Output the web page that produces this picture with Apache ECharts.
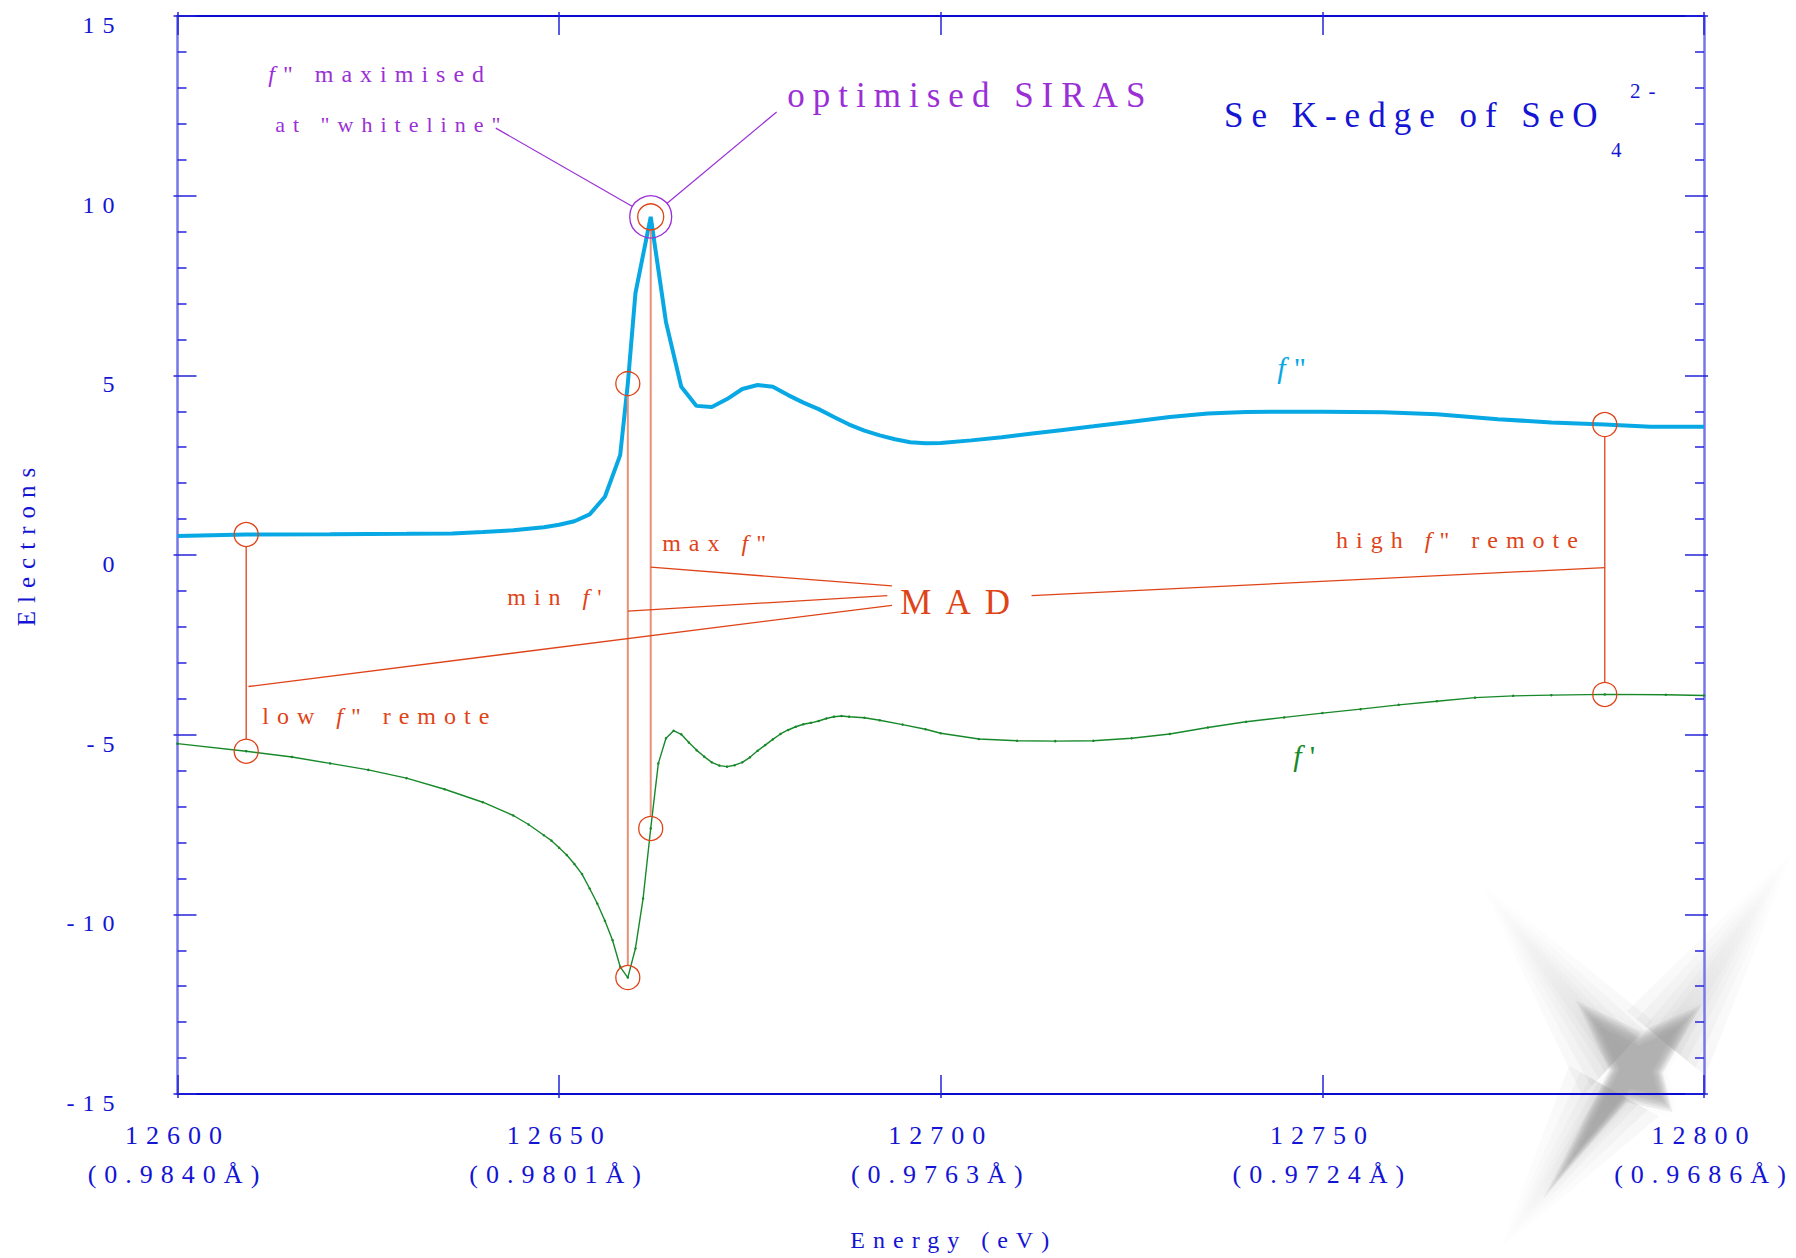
<!DOCTYPE html>
<html>
<head>
<meta charset="utf-8">
<script src="https://cdn.jsdelivr.net/npm/echarts@6/dist/echarts.min.js"></script>
<style>
  html, body { margin: 0; padding: 0; background: #ffffff; }
  #chart { width: 1796px; height: 1258px; }
  /* tracked lettering used throughout the figure */
  #chart text { letter-spacing: 8px; }
</style>
</head>
<body>
<div id="chart"></div>
<script>
// Se K-edge anomalous scattering of selenate: f'' (absorption) and f' (dispersion), electrons vs energy (eV)
const fppEnergy = [12600, 12609, 12620, 12630, 12636, 12640, 12644, 12646, 12648, 12650, 12652, 12654,
  12656, 12658, 12659, 12660, 12662, 12664, 12666, 12668, 12670, 12672, 12674, 12676, 12678, 12680,
  12682, 12684, 12686, 12688, 12690, 12692, 12694, 12696, 12698, 12700, 12704, 12708, 12712, 12716,
  12720, 12725, 12730, 12735, 12740, 12750, 12758, 12765, 12773, 12780, 12787, 12793, 12800];
const fppValues = [0.53, 0.57, 0.58, 0.59, 0.60, 0.64, 0.69, 0.73, 0.77, 0.84, 0.94, 1.13,
  1.62, 2.78, 4.77, 7.29, 9.41, 6.48, 4.68, 4.15, 4.12, 4.34, 4.62, 4.73, 4.68, 4.45,
  4.24, 4.06, 3.84, 3.63, 3.46, 3.33, 3.22, 3.14, 3.11, 3.12, 3.19, 3.28, 3.38, 3.48,
  3.58, 3.71, 3.84, 3.94, 3.98, 3.99, 3.97, 3.92, 3.78, 3.69, 3.63, 3.57, 3.57];

const fpEnergy = [12600, 12609, 12615, 12620, 12625, 12630, 12635, 12640, 12644, 12646, 12648, 12649,
  12650, 12651, 12652, 12653, 12654, 12655, 12656, 12657, 12658, 12659, 12660, 12661, 12662, 12663,
  12664, 12665, 12666, 12667, 12668, 12669, 12670, 12671, 12672, 12673, 12674, 12675, 12676, 12677,
  12678, 12679, 12680, 12681, 12682, 12683, 12684, 12685, 12686, 12687, 12688, 12690, 12692, 12695,
  12698, 12700, 12705, 12710, 12715, 12720, 12725, 12730, 12735, 12740, 12745, 12750, 12755, 12760,
  12765, 12770, 12775, 12780, 12787, 12795, 12800];
const fpValues = [-5.25, -5.46, -5.62, -5.80, -5.98, -6.21, -6.52, -6.88, -7.25, -7.50, -7.80, -7.95,
  -8.15, -8.35, -8.60, -8.88, -9.28, -9.70, -10.18, -10.72, -11.46, -11.76, -10.95, -9.56, -7.61, -5.80,
  -5.10, -4.89, -4.99, -5.22, -5.43, -5.61, -5.77, -5.86, -5.89, -5.85, -5.77, -5.63, -5.45, -5.29,
  -5.13, -4.98, -4.87, -4.78, -4.71, -4.67, -4.62, -4.55, -4.50, -4.48, -4.50, -4.53, -4.60, -4.72,
  -4.85, -4.96, -5.12, -5.17, -5.18, -5.17, -5.10, -4.98, -4.80, -4.64, -4.52, -4.40, -4.29, -4.17,
  -4.07, -3.97, -3.92, -3.90, -3.88, -3.89, -3.91];

const energyTicks = [12600, 12650, 12700, 12750, 12800];
const wavelengthTicks = ['0.9840', '0.9801', '0.9763', '0.9724', '0.9686'];
const electronTicks = [-15, -10, -5, 0, 5, 10, 15];

// energies picked for the MAD / SIRAS experiments
const remoteLowEnergy = 12609;
const inflectionEnergy = 12659;
const peakEnergy = 12662;
const remoteHighEnergy = 12787;

const FONT = 'Liberation Serif';
const BLUE = '#1414d4';
const AXIS_DARK = '#0b0bd0';
const AXIS_LIGHT = '#7676ec';
const TICK = '#2323d8';
const FPP_COLOR = '#08a8e4';
const FP_COLOR = '#17892a';
const RED = '#df4318';
const SALMON = '#e99178';
const PURPLE = '#9b2fd6';
const TRACK = 8; // px of letter spacing, same as the stylesheet

const chart = echarts.init(document.getElementById('chart'), null,
  { renderer: 'svg', width: 1796, height: 1258 });

const yMin = electronTicks[0];
const yMax = electronTicks[electronTicks.length - 1];
const yStep = electronTicks[1] - electronTicks[0];
const xMin = energyTicks[0];
const xMax = energyTicks[energyTicks.length - 1];
const xStep = energyTicks[1] - energyTicks[0];

function xAxisCfg(pos, main) {
  return {
    type: 'value', position: pos, min: xMin, max: xMax, interval: xStep,
    axisLine: { show: main, onZero: false, lineStyle: { color: AXIS_DARK, width: 2 } },
    axisTick: { show: true, inside: main, length: main ? 19 : 4, lineStyle: { color: TICK, width: 1.5 } },
    splitLine: { show: false },
    axisLabel: { show: false }
  };
}
function yAxisCfg(pos, main) {
  return {
    type: 'value', position: pos, min: yMin, max: yMax, interval: yStep,
    axisLine: { show: main, onZero: false, lineStyle: { color: AXIS_LIGHT, width: 2.5 } },
    axisTick: { show: true, inside: main, length: main ? 19 : 4, lineStyle: { color: TICK, width: 1.5 } },
    minorTick: { show: main, splitNumber: 5, length: 9, lineStyle: { color: TICK, width: 1.5 } },
    splitLine: { show: false },
    axisLabel: { show: false }
  };
}

const xBottom = xAxisCfg('bottom', true);
xBottom.axisLabel = {
  show: true, margin: 22, fontFamily: FONT, fontSize: 26, color: BLUE, lineHeight: 39,
  formatter: function (v) {
    const i = energyTicks.indexOf(v);
    return String(v) + '\n(' + wavelengthTicks[i] + 'Å)';
  }
};
xBottom.name = 'Energy (eV)';
xBottom.nameLocation = 'middle';
xBottom.nameGap = 134;
xBottom.nameTextStyle = { fontFamily: FONT, fontSize: 24, color: BLUE, padding: [0, 0, 0, 26] };

const yLeft = yAxisCfg('left', true);
yLeft.axisLabel = {
  show: true, margin: 55, fontFamily: FONT, fontSize: 24, color: BLUE,
  verticalAlign: 'top', lineHeight: 18
};
yLeft.name = 'Electrons';
yLeft.nameLocation = 'middle';
yLeft.nameRotate = 90;
yLeft.nameGap = 139;
yLeft.nameTextStyle = { fontFamily: FONT, fontSize: 25, color: BLUE, padding: [0, 0, 0, 24] };

const option = {
  animation: false,
  backgroundColor: '#ffffff',
  grid: { left: 177.5, right: 92, top: 16, bottom: 164, containLabel: false, outerBoundsMode: 'none' },
  xAxis: [xBottom, xAxisCfg('top', true), xAxisCfg('bottom', false), xAxisCfg('top', false)],
  yAxis: [yLeft, yAxisCfg('right', true), yAxisCfg('left', false), yAxisCfg('right', false)],
  series: [
    {
      name: 'f\'\'', type: 'line', xAxisIndex: 0, yAxisIndex: 0, z: 4,
      data: fppEnergy.map((e, i) => [e, fppValues[i]]),
      showSymbol: false, lineStyle: { color: FPP_COLOR, width: 4 }
    },
    {
      name: 'f\'', type: 'line', xAxisIndex: 0, yAxisIndex: 0, z: 3,
      data: fpEnergy.map((e, i) => [e, fpValues[i]]),
      symbol: 'circle', symbolSize: 2.5, showAllSymbol: true,
      itemStyle: { color: FP_COLOR }, lineStyle: { color: FP_COLOR, width: 1.4 }
    }
  ]
};
chart.setOption(option);

// ---- annotations, placed through the chart's own coordinate system ----
const P = (e, v) => chart.convertToPixel({ xAxisIndex: 0, yAxisIndex: 0 }, [e, v]);
const fppAt = e => fppValues[fppEnergy.indexOf(e)];
const fpAt = e => fpValues[fpEnergy.indexOf(e)];

const els = [];
const mctx = document.createElement('canvas').getContext('2d');
function runWidth(t, size, italic) {
  mctx.font = (italic ? 'italic ' : '') + size + 'px "' + FONT + '"';
  return mctx.measureText(t).width + TRACK * t.length;
}
// a line of text made of upright / italic pieces, left edge at data point [e, v]
function textRun(parts, e, v, size, color, extraGap) {
  const p = P(e, v);
  let x = p[0];
  parts.forEach(part => {
    els.push({
      type: 'text', x: x, y: p[1], z: 20,
      style: {
        text: part.t, fill: color, fontFamily: FONT, fontSize: size,
        fontStyle: part.i ? 'italic' : 'normal', align: 'left', verticalAlign: 'middle'
      }
    });
    x += runWidth(part.t, size, part.i) + (extraGap || 0);
  });
}
function circle(c, r, color) {
  els.push({ type: 'circle', z: 15, shape: { cx: c[0], cy: c[1], r: r },
    style: { fill: 'none', stroke: color, lineWidth: 1.3 } });
}
function segment(a, b, color, w) {
  els.push({ type: 'line', z: 12, shape: { x1: a[0], y1: a[1], x2: b[0], y2: b[1] },
    style: { stroke: color, lineWidth: w } });
}
// link the f'' point and the f' point measured at one energy
function pairLink(e, rTop, rBottom, color, w) {
  const top = P(e, fppAt(e));
  const bot = P(e, fpAt(e));
  circle(top, rTop, RED);
  circle(bot, rBottom, RED);
  segment([top[0], top[1] + rTop], [bot[0], bot[1] - rBottom], color, w);
}
pairLink(remoteLowEnergy, 12, 12, RED, 1.3);
pairLink(inflectionEnergy, 12, 12, SALMON, 2);
pairLink(peakEnergy, 13, 12, SALMON, 2);
pairLink(remoteHighEnergy, 12, 12, RED, 1.3);

// SIRAS ring around the white line
const peakPx = P(peakEnergy, fppAt(peakEnergy));
const ringR = 21;
circle(peakPx, ringR, PURPLE);
function toRing(from) {
  const dx = from[0] - peakPx[0], dy = from[1] - peakPx[1];
  const d = Math.hypot(dx, dy);
  return [peakPx[0] + dx / d * ringR, peakPx[1] + dy / d * ringR];
}
const whiteTail = P(12641.7, 11.88);
const sirasTail = P(12678.5, 12.33);
segment(whiteTail, toRing(whiteTail), PURPLE, 1.2);
segment(sirasTail, toRing(sirasTail), PURPLE, 1.2);

// MAD leaders
segment(P(peakEnergy, -0.34), P(12693.6, -0.86), RED, 1.3);
segment(P(inflectionEnergy, -1.56), P(12693.0, -1.13), RED, 1.3);
segment(P(remoteLowEnergy + 0.3, -3.66), P(12693.6, -1.40), RED, 1.3);
segment(P(12711.9, -1.13), P(remoteHighEnergy, -0.35), RED, 1.3);

// labels
textRun([{ t: 'f', i: true }, { t: '" maximised' }], 12611.9, 13.39, 24, PURPLE);
textRun([{ t: 'at "whiteline"' }], 12612.8, 11.97, 22, PURPLE);
textRun([{ t: 'optimised SIRAS' }], 12679.9, 12.80, 35, PURPLE);
textRun([{ t: 'Se K-edge of SeO' }], 12737.1, 12.22, 35, BLUE);
textRun([{ t: '4' }], 12787.8, 11.27, 21, BLUE);
textRun([{ t: '2-' }], 12790.3, 12.91, 21, BLUE);
textRun([{ t: 'max ' }, { t: 'f', i: true }, { t: '"' }], 12663.5, 0.33, 24, RED);
textRun([{ t: 'min ' }, { t: 'f', i: true }, { t: '\'' }], 12643.2, -1.17, 24, RED);
textRun([{ t: 'M' }, { t: 'A' }, { t: 'D' }], 12694.7, -1.31, 35, RED, 6);
textRun([{ t: 'low ' }, { t: 'f', i: true }, { t: '" remote' }], 12611.1, -4.48, 24, RED);
textRun([{ t: 'high ' }, { t: 'f', i: true }, { t: '" remote' }], 12751.8, 0.42, 24, RED);
textRun([{ t: 'f', i: true }, { t: '"' }], 12744.1, 5.23, 30, FPP_COLOR);
textRun([{ t: 'f', i: true }, { t: '\'' }], 12746.2, -5.57, 30, FP_COLOR);

// soft grey star glow in the lower right corner, built from stacked translucent layers
const starCentre = [1636, 1068];
const starCore = [[1587, 1013], [1640, 1038], [1690, 1016], [1658, 1072], [1666, 1104], [1628, 1096],
  [1560, 1175], [1614, 1070]];
const starRays = [
  [[1478, 880], [1630, 1045], [1605, 1072]],
  [[1796, 846], [1680, 1055], [1652, 1032]],
  [[1498, 1252], [1598, 1082], [1630, 1100]]
];
function scaled(pts, c, s) {
  return pts.map(p => [c[0] + (p[0] - c[0]) * s, c[1] + (p[1] - c[1]) * s]);
}
[0.6, 1.0, 1.5, 2.1, 2.8].forEach(w => starRays.forEach(r => {
  const mid = [(r[1][0] + r[2][0]) / 2, (r[1][1] + r[2][1]) / 2];
  const b1 = scaled([r[1]], mid, w)[0];
  const b2 = scaled([r[2]], mid, w)[0];
  const fade = new echarts.graphic.LinearGradient(mid[0], mid[1], r[0][0], r[0][1], [
    { offset: 0, color: 'rgba(140,140,140,0.07)' },
    { offset: 0.6, color: 'rgba(160,160,160,0.03)' },
    { offset: 1, color: 'rgba(200,200,200,0)' }
  ], true);
  els.push({ type: 'polygon', z: -5, silent: true, shape: { points: [r[0], b1, b2] },
    style: { fill: fade } });
}));
[1.22, 1.14, 1.07, 1.0, 0.93, 0.85, 0.75].forEach(s => els.push({
  type: 'polygon', z: -4, silent: true, shape: { points: scaled(starCore, starCentre, s) },
  style: { fill: 'rgba(140,140,140,0.14)', shadowBlur: 10, shadowColor: 'rgba(140,140,140,0.15)' }
}));

chart.setOption({ graphic: { elements: els } });
</script>
</body>
</html>
